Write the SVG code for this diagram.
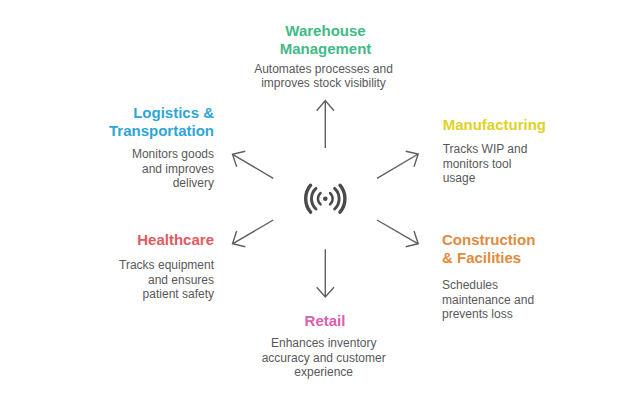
<svg xmlns="http://www.w3.org/2000/svg" width="640" height="401" viewBox="0 0 640 401">
  <style>
    text { font-family: "Liberation Sans", Arial, sans-serif; }
    .t { font-size: 15px; font-weight: 700; }
    .b { font-size: 12px; fill: #58585a; }
    .e { text-anchor: end; }
    .m { text-anchor: middle; }
    .c path { fill: none; stroke: #5f5f5f; stroke-width: 1.4; }
    .i path { fill: none; stroke: #4a4a4a; stroke-linecap: round; }
  </style>
  <rect width="640" height="401" fill="#ffffff"/>
  <g id="connectors" class="c">
    <path d="M325.3 148V100.5M316.7 110.7L325.3 100.5L334 110.7"/>
    <path d="M273.3 178.3L232.5 154.3M245.3 151.3L232.5 154.3L236.7 166.7"/>
    <path d="M377 178.3L418.2 154M405.7 151.3L418.2 154L414 166.7"/>
    <path d="M273.3 220L232.5 243.8M236.7 231L232.5 243.8L245.3 246.7"/>
    <path d="M377 220L418.2 243.8M414 231L418.2 243.8L405.7 246.7"/>
    <path d="M325.3 249.3V297M316.7 287.3L325.3 297L334 287.3"/>
  </g>
  <g id="hub" class="i">
    <circle cx="325.3" cy="198.7" r="2.3" fill="#4a4a4a"/>
    <path stroke-width="2.4" d="M320.6 193A7.5 7.5 0 0 0 320.6 204.4M330 193A7.5 7.5 0 0 1 330 204.4"/>
    <path stroke-width="2.9" d="M316 188.4A14 14 0 0 0 316 209M334.6 188.4A14 14 0 0 1 334.6 209"/>
    <path stroke-width="3.4" d="M310.6 185.2A21 21 0 0 0 310.6 212.2M340 185.2A21 21 0 0 1 340 212.2"/>
  </g>
  <g id="warehouse">
    <text class="t m" x="325.5" y="36" fill="#3fba88">Warehouse</text>
    <text class="t m" x="325.5" y="54" fill="#3fba88">Management</text>
    <text class="b m" x="323.5" y="72.5">Automates processes and</text>
    <text class="b m" x="323.5" y="87">improves stock visibility</text>
  </g>
  <g id="logistics">
    <text class="t e" x="214" y="117.7" fill="#2fa6d6">Logistics &amp;</text>
    <text class="t e" x="214" y="135.7" fill="#2fa6d6">Transportation</text>
    <text class="b e" x="214" y="158">Monitors goods</text>
    <text class="b e" x="214" y="172.5">and improves</text>
    <text class="b e" x="214" y="186.7">delivery</text>
  </g>
  <g id="manufacturing">
    <text class="t" x="442.7" y="129.5" fill="#e0d225">Manufacturing</text>
    <text class="b" x="442.7" y="153.3">Tracks WIP and</text>
    <text class="b" x="442.7" y="167.7">monitors tool</text>
    <text class="b" x="442.7" y="181.7">usage</text>
  </g>
  <g id="healthcare">
    <text class="t e" x="214" y="245.3" fill="#e05a62">Healthcare</text>
    <text class="b e" x="214" y="269.3">Tracks equipment</text>
    <text class="b e" x="214" y="284">and ensures</text>
    <text class="b e" x="214" y="298">patient safety</text>
  </g>
  <g id="construction">
    <text class="t" x="442" y="245.3" fill="#e08b3e">Construction</text>
    <text class="t" x="442" y="263.3" fill="#e08b3e">&amp; Facilities</text>
    <text class="b" x="442" y="289.3">Schedules</text>
    <text class="b" x="442" y="304">maintenance and</text>
    <text class="b" x="442" y="318.3">prevents loss</text>
  </g>
  <g id="retail">
    <text class="t m" x="325" y="326" fill="#d95fb0">Retail</text>
    <text class="b m" x="323.7" y="347">Enhances inventory</text>
    <text class="b m" x="323.7" y="361.7">accuracy and customer</text>
    <text class="b m" x="323.7" y="375.7">experience</text>
  </g>
</svg>
